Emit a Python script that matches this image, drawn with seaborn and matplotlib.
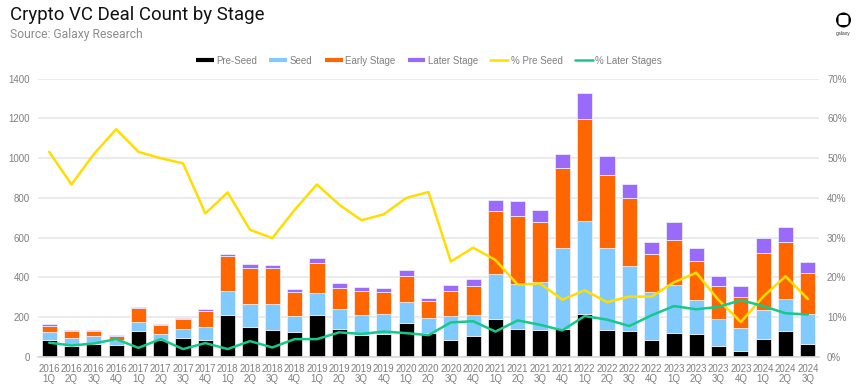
import numpy as np
import matplotlib
matplotlib.use("Agg")
import matplotlib.pyplot as plt
from matplotlib.lines import Line2D
from matplotlib.patches import Circle, FancyBboxPatch
import seaborn as sns

# --- DATA ---
years = [2016]*4 + [2017]*4 + [2018]*4 + [2019]*4 + [2020]*4 + [2021]*4 + [2022]*4 + [2023]*4 + [2024]*3
quarters = ["1Q", "2Q", "3Q", "4Q"]*8 + ["1Q", "2Q", "3Q"]
pre_seed = [84, 55, 67, 59, 129, 84, 94, 84, 210, 149, 136, 126, 213, 139, 112, 117, 171, 122, 84, 104,
            190, 139, 136, 143, 218, 134, 129, 84, 122, 114, 57, 29, 89, 129, 67]
seed = [40, 39, 37, 28, 47, 30, 45, 67, 122, 118, 131, 80, 111, 101, 101, 101, 106, 74, 121, 106,
        229, 230, 241, 407, 465, 413, 329, 245, 240, 171, 133, 115, 149, 165, 149]
early = [34, 35, 27, 17, 72, 45, 54, 81, 176, 181, 183, 121, 149, 107, 119, 107, 132, 84, 125, 147,
         316, 342, 303, 399, 512, 368, 340, 189, 229, 198, 166, 160, 284, 287, 207]
later = [7, 5, 5, 5, 4, 9, 5, 10, 10, 22, 11, 15, 25, 24, 22, 21, 29, 17, 34, 34,
         54, 73, 58, 70, 134, 96, 70, 62, 88, 67, 50, 52, 79, 73, 53]
pct_pre = [51.6, 43.4, 51.0, 57.3, 51.6, 50.0, 48.7, 36.1, 41.4, 32.0, 29.9, 37.0, 43.4, 38.3, 34.4, 35.9,
           40.0, 41.5, 24.0, 27.5, 24.4, 18.2, 18.5, 14.4, 16.8, 13.8, 15.2, 15.2, 18.8, 21.2, 14.3, 8.8,
           15.2, 20.3, 14.6]
pct_later = [3.6, 2.9, 3.4, 4.5, 2.3, 4.5, 2.0, 3.5, 2.0, 4.0, 2.4, 4.5, 4.5, 6.2, 5.8, 6.4,
             6.0, 5.5, 8.7, 9.0, 6.4, 9.2, 8.1, 6.7, 10.3, 9.4, 7.8, 10.5, 12.8, 12.0, 12.6, 14.3,
             12.8, 11.0, 10.7]

labels = [f"{y}\n{q}" for y, q in zip(years, quarters)]
GRAY = "#7f7f7f"
colors = {"Pre-Seed": "#000000", "Seed": "#80caff", "Early Stage": "#ff6600", "Later Stage": "#9a6bfa"}
PRE_LINE = "#ffdd00"
LATER_LINE = "#14c98a"

sns.set_theme(style="white")
plt.rcParams["font.family"] = ["Liberation Sans", "DejaVu Sans"]

W, H = 856, 389
fig = plt.figure(figsize=(W/100, H/100), dpi=100)
ax = fig.add_axes([38/W, 1 - 357/H, 781/W, (357 - 78.7)/H])

# --- STACKED BARS ---
bottom = np.zeros(len(labels))
for name, vals in zip(colors, [pre_seed, seed, early, later]):
    sns.barplot(x=labels, y=vals, bottom=bottom, color=colors[name], saturation=1, width=0.68,
                edgecolor="#f4f4fa", linewidth=0.5, ax=ax, zorder=2)
    bottom = bottom + np.array(vals)

ax.set_ylim(0, 1400)
ax.set_xlim(-0.5, len(labels) - 0.5)
ax.set_yticks(range(0, 1401, 200))
ax.grid(axis="y", color="#e6e6ea", lw=1.1, zorder=0)
ax.set_axisbelow(True)
ax.tick_params(axis="both", length=0, labelsize=7, labelcolor=GRAY)
ax.tick_params(axis="y", pad=5.8)
ax.tick_params(axis="x", pad=5)
for lab in ax.get_xticklabels():
    lab.set_linespacing(1.05)
for s in ["top", "left", "right"]:
    ax.spines[s].set_visible(False)
ax.spines["bottom"].set_color("#d9d9d9")

# --- PERCENT LINES ---
ax2 = ax.twinx()
x_pos = np.arange(len(labels))
sns.lineplot(x=x_pos, y=pct_pre, color=PRE_LINE, lw=1.8, ax=ax2)
sns.lineplot(x=x_pos, y=pct_later, color=LATER_LINE, lw=1.8, ax=ax2)
ax2.set_ylim(0, 70)
ax2.set_yticks(range(0, 71, 10))
ax2.set_yticklabels([f"{v}%" for v in range(0, 71, 10)])
ax2.tick_params(axis="y", length=0, labelsize=7, labelcolor=GRAY, pad=5.8)
ax2.grid(False)
for s in ax2.spines.values():
    s.set_visible(False)

# --- LEGEND ---
handles = [Line2D([], [], color=c, lw=3, solid_capstyle="butt") for c in colors.values()]
handles += [Line2D([], [], color=PRE_LINE, lw=1.8), Line2D([], [], color=LATER_LINE, lw=1.8)]
names = list(colors) + ["% Pre Seed", "% Later Stages"]
fig.legend(handles, names, ncol=6, loc="center", bbox_to_anchor=(429/W, 1 - 60.5/H), frameon=False,
           fontsize=7, labelcolor=GRAY, handlelength=1.85, handletextpad=0.25, columnspacing=1.25,
           borderpad=0)

# --- TITLE, SOURCE, LOGO ---
fig.text(9.5/W, 1 - 15.5/H, "Crypto VC Deal Count by Stage", fontsize=13.4, color="#111111", va="center",
         family=["Roboto", "DejaVu Sans"])
fig.text(9.5/W, 1 - 34.5/H, "Source: Galaxy Research", fontsize=8.7, color="#8c8c8c", va="center",
         family=["Roboto", "DejaVu Sans"])
fig.add_artist(Circle((843.5, H - 20), 7.5, transform=None, fc="black", ec="none"))
fig.add_artist(FancyBboxPatch((838.5, H - 25), 10, 10, boxstyle="round,pad=0,rounding_size=2.5",
                              transform=None, fc="white", ec="none"))
fig.text(843.5/W, 1 - 33/H, "galaxy", fontsize=3.6, color="#333333", ha="center", va="center")

fig.savefig("out.png", dpi=100)
